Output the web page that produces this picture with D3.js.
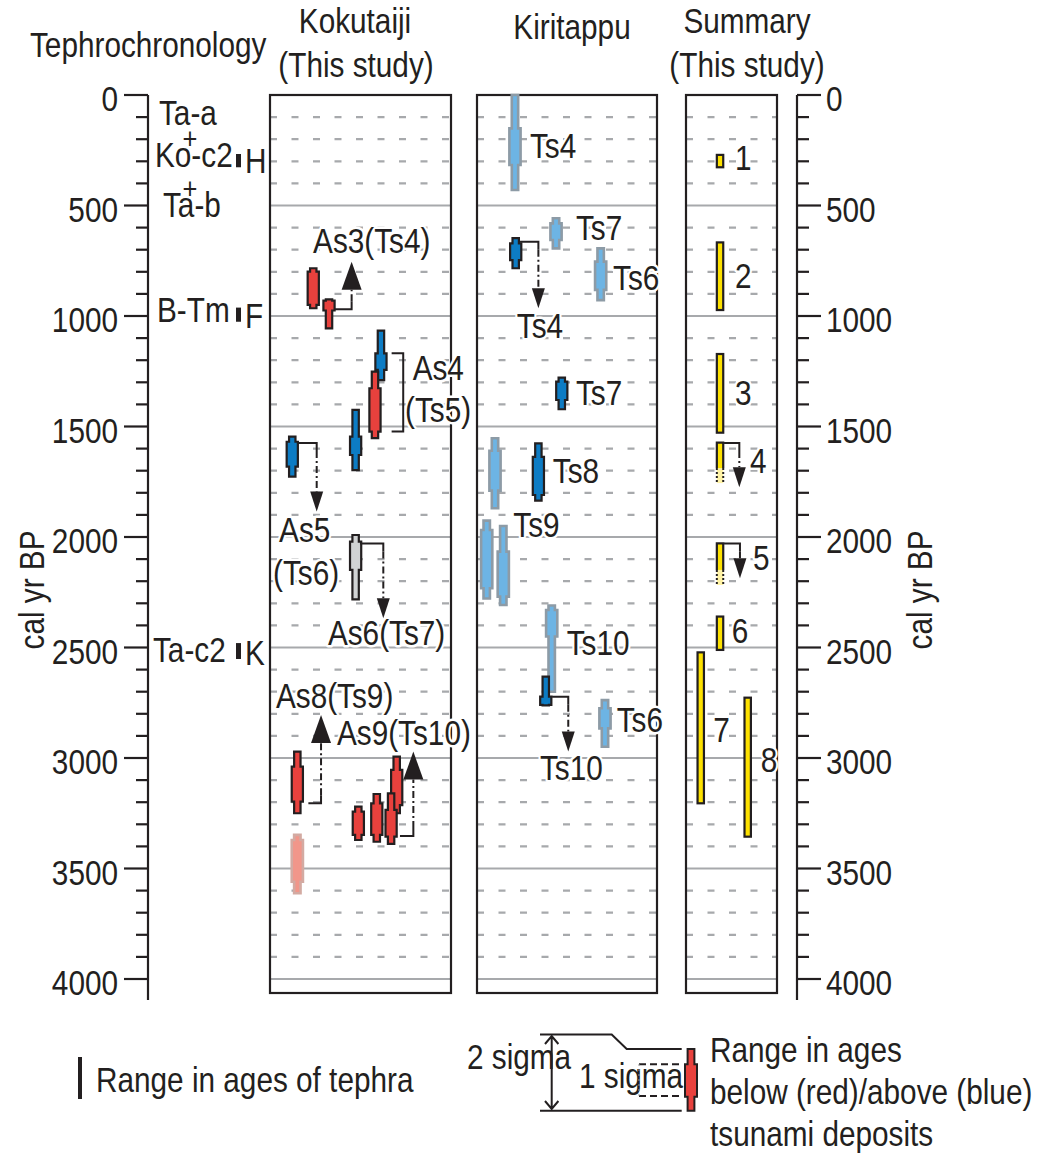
<!DOCTYPE html>
<html><head><meta charset="utf-8">
<script src="https://cdn.jsdelivr.net/npm/d3@7"></script>
<style>body{margin:0;background:#fff} text{font-family:"Liberation Sans",Arial,Helvetica,sans-serif;fill:#231f20}</style>
</head><body><svg id="c" width="1041" height="1154"></svg>
<script>
// ---------------- DATA ----------------
const axisMax = 4000;
const minorStep = 100;
const majorStep = 500;
const tickLabels = [0, 500, 1000, 1500, 2000, 2500, 3000, 3500, 4000];

const panelNames = ["Kokutaiji", "Kiritappu", "Summary"];

// Tephra names [label, age at text baseline]
const tephraNames = [["Ta-a", 136], ["Ko-c2", 326], ["Ta-b", 552], ["B-Tm", 1027], ["Ta-c2", 2566]];
// Tephra age ranges [code, from, to]
const tephraRanges = [["H", 267, 327], ["F", 962, 1026], ["K", 2480, 2552]];

// Range bars: [kind, column (0-10 across the panel), 2σ from, 1σ from, 1σ to, 2σ to]
const kokutaijiBars = [
  ["red", 2.39, 784, 799, 950, 965],
  ["red", 3.26, 925, 930, 975, 1056],
  ["blue", 6.13, 1066, 1169, 1244, 1290],
  ["red", 5.80, 1252, 1327, 1523, 1553],
  ["blue", 4.73, 1425, 1546, 1629, 1697],
  ["blue", 1.23, 1546, 1569, 1682, 1727],
  ["gray", 4.73, 1991, 2021, 2149, 2282],
  ["red", 1.51, 2971, 3039, 3197, 3250],
  ["salmon", 1.51, 3348, 3371, 3560, 3612],
  ["red", 7.00, 2994, 3054, 3213, 3250],
  ["red", 4.88, 3220, 3243, 3348, 3371],
  ["red", 5.90, 3163, 3205, 3348, 3379],
  ["red", 6.69, 3160, 3235, 3356, 3389]
];
const kiritappuBars = [
  ["lightblue", 2.11, 0, 151, 317, 430],
  ["lightblue", 4.39, 558, 581, 656, 694],
  ["blue", 2.15, 648, 671, 747, 784],
  ["lightblue", 6.87, 694, 754, 882, 928],
  ["blue", 4.71, 1279, 1297, 1380, 1422],
  ["lightblue", 1.00, 1553, 1610, 1790, 1870],
  ["blue", 3.41, 1576, 1637, 1810, 1835],
  ["lightblue", 0.54, 1926, 1968, 2232, 2278],
  ["lightblue", 1.46, 1950, 2066, 2270, 2308],
  ["lightblue", 4.15, 2310, 2330, 2450, 2700],
  ["blue", 3.82, 2632, 2722, 2760, 2762],
  ["lightblue", 7.11, 2738, 2775, 2866, 2949]
];
// Summary events: [number, column, from, to, uncertain extension to]
const summaryBars = [
  ["1", 3.74, 271, 327, null],
  ["2", 3.74, 667, 973, null],
  ["3", 3.74, 1172, 1528, null],
  ["4", 3.74, 1573, 1688, 1756],
  ["5", 3.74, 2029, 2149, 2217],
  ["6", 3.74, 2360, 2511, null],
  ["7", 1.62, 2522, 3205, null],
  ["8", 6.78, 2727, 3356, null]
];

// Correlation arrows: [panel, start column, start age, corner column, tip age, head]
const arrows = [
  [0, 3.54, 970, 4.51, 754, "L"],
  [0, 1.49, 1575, 2.58, 1885, "S"],
  [0, 4.97, 2029, 6.26, 2368, "S"],
  [0, 2.12, 3205, 2.82, 2805, "L"],
  [0, 7.18, 3353, 7.92, 2971, "L"],
  [1, 2.39, 664, 3.41, 965, "S"],
  [1, 4.17, 2723, 5.07, 2971, "S"],
  [2, 4.18, 1575, 5.86, 1775, "S"],
  [2, 4.18, 2029, 5.93, 2187, "S"]
];
// Bracket for As4: [panel, col from, col to, age from, age to]
const brackets = [[0, 6.72, 7.36, 1169, 1523]];

// Labels: [panel, text, column, age at baseline]
const panelLabels = [
  [0, "As3(Ts4)", 2.38, 715],
  [0, "As4", 7.88, 1290],
  [0, "(Ts5)", 7.46, 1478],
  [0, "As5", 0.5, 2021],
  [0, "(Ts6)", 0.17, 2217],
  [0, "As6(Ts7)", 3.2, 2489],
  [0, "As8(Ts9)", 0.33, 2775],
  [0, "As9(Ts10)", 3.7, 2941],
  [1, "Ts4", 2.94, 285],
  [1, "Ts7", 5.5, 656],
  [1, "Ts6", 7.56, 882],
  [1, "Ts4", 2.21, 1100],
  [1, "Ts7", 5.5, 1403],
  [1, "Ts8", 4.21, 1757],
  [1, "Ts9", 2.02, 1999],
  [1, "Ts10", 4.98, 2534],
  [1, "Ts6", 7.76, 2881],
  [1, "Ts10", 3.5, 3100],
  [2, "1", 5.38, 339],
  [2, "2", 5.38, 873],
  [2, "3", 5.38, 1403],
  [2, "4", 7.03, 1710],
  [2, "5", 7.36, 2149],
  [2, "6", 5.02, 2481],
  [2, "7", 3.0, 2926],
  [2, "8", 8.21, 3062]
];

// ---------------- LAYOUT / STYLE ----------------
const svg = d3.select("#c");
const INK = "#231f20";
const GRID = "#a7a9ac";
const FS = 35, SX = 0.85;
const y = d3.scaleLinear().domain([0, axisMax]).range([95, 979]);
const panels = [
  {x0: 270, x1: 451},
  {x0: 477, x1: 657},
  {x0: 686, x1: 777}
].map(p => ({...p, x: d3.scaleLinear().domain([0, 10]).range([p.x0, p.x1])}));
const panelTop = 95, panelBottom = 993;

const fills = {
  red: {fill: "#e8413d", stroke: INK, sw: 2.2},
  blue: {fill: "#0d7cc4", stroke: INK, sw: 2.2},
  lightblue: {fill: "#6db4e4", stroke: "#8d9ba6", sw: 2.6},
  gray: {fill: "#d1d3d4", stroke: INK, sw: 2.2},
  salmon: {fill: "#f1968a", stroke: "#d3aaa2", sw: 2.6}
};

function txt(sel, x, yy, s, anchor = "start", size = FS, halo = false) {
  const g = sel.append("g").attr("transform", `translate(${x},${yy}) scale(${SX},1)`);
  const t = g.append("text").attr("text-anchor", anchor).attr("font-size", size).text(s);
  if (halo) t.attr("stroke", "#fff").attr("stroke-width", 5).attr("paint-order", "stroke").attr("stroke-linejoin", "round");
  return g;
}

function rangeShape(xc, a2, a1, b1, b2, wn = 3.2, ww = 5.6) {
  return `M${xc - wn},${a2}H${xc + wn}V${a1}H${xc + ww}V${b1}H${xc + wn}V${b2}H${xc - wn}V${b1}H${xc - ww}V${a1}H${xc - wn}Z`;
}

// ---------------- HEADERS ----------------
txt(svg, 30, 57, "Tephrochronology");
txt(svg, 355, 33, panelNames[0], "middle");
txt(svg, 356, 77, "(This study)", "middle");
txt(svg, 572, 39, panelNames[1], "middle");
txt(svg, 747, 33, panelNames[2], "middle");
txt(svg, 747, 77, "(This study)", "middle");

// ---------------- AXES ----------------
function drawAxis(xLine, dir) {
  const g = svg.append("g");
  g.append("line").attr("x1", xLine).attr("x2", xLine).attr("y1", panelTop).attr("y2", 1000)
    .attr("stroke", INK).attr("stroke-width", 2.2);
  d3.range(0, axisMax + 1, minorStep).forEach(v => {
    const major = v % majorStep === 0;
    const len = major ? 24 : 12;
    g.append("line").attr("x1", xLine).attr("x2", xLine + dir * len)
      .attr("y1", y(v)).attr("y2", y(v)).attr("stroke", INK).attr("stroke-width", 2.2);
  });
  tickLabels.forEach(v => {
    txt(g, dir < 0 ? 118 : 826, y(v) + 16, String(v), dir < 0 ? "end" : "start");
  });
}
drawAxis(148, -1);
drawAxis(797, 1);
svg.append("g").attr("transform", `translate(44,590) rotate(-90) scale(${SX},1)`)
  .append("text").attr("text-anchor", "middle").attr("font-size", FS).text("cal yr BP");
svg.append("g").attr("transform", `translate(932,590) rotate(-90) scale(${SX},1)`)
  .append("text").attr("text-anchor", "middle").attr("font-size", FS).text("cal yr BP");

// tephra
tephraNames.forEach(([n, v]) => {
  const xs = {"Ta-a": 159, "Ko-c2": 155, "Ta-b": 163, "B-Tm": 157, "Ta-c2": 153}[n];
  txt(svg, xs, y(v), n);
});
txt(svg, 190, y(326) - 18, "+", "middle", 30);
txt(svg, 190, y(552) - 18, "+", "middle", 30);
tephraRanges.forEach(([c, a, b]) => {
  svg.append("rect").attr("x", 236).attr("y", y(a)).attr("width", 5).attr("height", y(b) - y(a)).attr("fill", INK);
  txt(svg, 245, y(b) + 6, c);
});

// ---------------- PANELS ----------------
panels.forEach(p => {
  const g = svg.append("g");
  d3.range(minorStep, axisMax + 1, minorStep).forEach(v => {
    const major = v % majorStep === 0;
    g.append("line").attr("x1", p.x0).attr("x2", p.x1).attr("y1", y(v)).attr("y2", y(v))
      .attr("stroke", GRID).attr("stroke-width", major ? 2 : 2.3)
      .attr("stroke-dasharray", major ? null : "7,14.5");
  });
  g.append("rect").attr("x", p.x0).attr("y", panelTop).attr("width", p.x1 - p.x0)
    .attr("height", panelBottom - panelTop).attr("fill", "none").attr("stroke", INK).attr("stroke-width", 2.2);
});

function drawBars(p, bars) {
  const g = svg.append("g");
  bars.forEach(([k, c, a2, a1, b1, b2]) => {
    const st = fills[k];
    g.append("path").attr("d", rangeShape(p.x(c), y(a2), y(a1), y(b1), y(b2)))
      .attr("fill", st.fill).attr("stroke", st.stroke).attr("stroke-width", st.sw).attr("stroke-linejoin", "miter");
  });
}
drawBars(panels[0], kokutaijiBars);
drawBars(panels[1], kiritappuBars);

// summary
summaryBars.forEach(([n, c, a, b, ext]) => {
  const p = panels[2];
  const xc = p.x(c);
  if (ext) {
    svg.append("rect").attr("x", xc - 3.2).attr("y", y(b)).attr("width", 6.4).attr("height", y(ext) - y(b))
      .attr("fill", "#fff3a6");
    [xc - 3.2, xc + 3.2].forEach(xx => svg.append("line").attr("x1", xx).attr("x2", xx)
      .attr("y1", y(b)).attr("y2", y(ext)).attr("stroke", INK).attr("stroke-width", 2).attr("stroke-dasharray", "2,2"));
    svg.append("path").attr("d", `M${xc - 3.2},${y(b)}V${y(a)}H${xc + 3.2}V${y(b)}`)
      .attr("fill", "#fde100").attr("stroke", INK).attr("stroke-width", 2.2);
  } else {
    svg.append("rect").attr("x", xc - 3.2).attr("y", y(a)).attr("width", 6.4).attr("height", y(b) - y(a))
      .attr("fill", "#fde100").attr("stroke", INK).attr("stroke-width", 2.2);
  }
});

// arrows
arrows.forEach(([pi, c0, v0, c1, tip, head]) => {
  const p = panels[pi];
  const x0 = p.x(c0), x1 = p.x(c1), y0 = y(v0), yt = y(tip);
  const dir = yt < y0 ? -1 : 1;
  const hh = head === "L" ? 28 : 20, hw = head === "L" ? 10 : 6.5;
  const yb = yt - dir * hh;
  const g = svg.append("g");
  g.append("path").attr("d", `M${x0},${y0}H${x1}V${y0 + dir * 8}`).attr("fill", "none")
    .attr("stroke", INK).attr("stroke-width", 2);
  g.append("line").attr("x1", x1).attr("x2", x1).attr("y1", y0 + dir * 8).attr("y2", yb)
    .attr("stroke", INK).attr("stroke-width", 2).attr("stroke-dasharray", "7,3,2,3");
  g.append("path").attr("d", `M${x1},${yt}L${x1 - hw},${yb}H${x1 + hw}Z`).attr("fill", INK);
});

// brackets
brackets.forEach(([pi, c0, c1, a, b]) => {
  const p = panels[pi];
  svg.append("path").attr("d", `M${p.x(c0)},${y(a)}H${p.x(c1)}V${y(b)}H${p.x(c0)}`)
    .attr("fill", "none").attr("stroke", INK).attr("stroke-width", 2);
});

// labels
panelLabels.forEach(([pi, s, c, v]) => txt(svg, panels[pi].x(c), y(v), s, "start", FS, true));

// ---------------- LEGEND ----------------
svg.append("rect").attr("x", 78).attr("y", 1057).attr("width", 4).attr("height", 42).attr("fill", INK);
txt(svg, 96, 1092, "Range in ages of tephra");
txt(svg, 467, 1069, "2 sigma");
txt(svg, 579, 1088, "1 sigma");
svg.append("path").attr("d", "M540,1034.5H611.7L626.7,1049H681.7M540,1110.7H681.7")
  .attr("fill", "none").attr("stroke", INK).attr("stroke-width", 2);
svg.append("path").attr("d", "M639,1064.3H681.7M639,1096H681.7")
  .attr("fill", "none").attr("stroke", INK).attr("stroke-width", 2).attr("stroke-dasharray", "7,4");
svg.append("line").attr("x1", 639).attr("x2", 639).attr("y1", 1064).attr("y2", 1096)
  .attr("stroke", "#999").attr("stroke-width", 1).attr("stroke-dasharray", "2,3");
svg.append("path").attr("d", "M551.7,1036V1109M545,1044L551.7,1036L558.4,1044M545,1101L551.7,1109L558.4,1101")
  .attr("fill", "none").attr("stroke", INK).attr("stroke-width", 2);
svg.append("path").attr("d", rangeShape(691, 1049, 1064.3, 1096.7, 1110.7, 3.4, 6))
  .attr("fill", fills.red.fill).attr("stroke", INK).attr("stroke-width", 2);
txt(svg, 710, 1062, "Range in ages");
txt(svg, 710, 1104, "below (red)/above (blue)");
txt(svg, 710, 1146, "tsunami deposits");
</script></body></html>
